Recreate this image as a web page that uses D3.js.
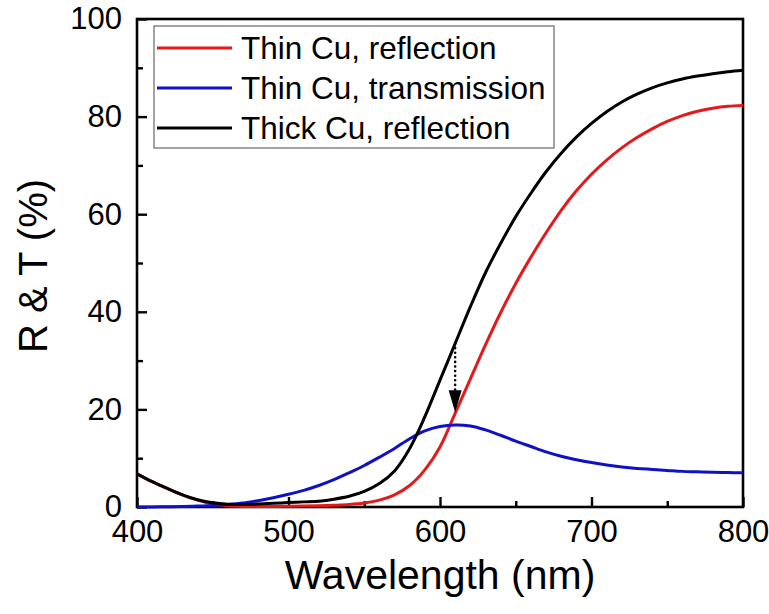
<!DOCTYPE html>
<html>
<head>
<meta charset="utf-8">
<script src="https://cdn.jsdelivr.net/npm/d3@7"></script>
<style>
  html, body { margin: 0; padding: 0; background: #fff; }
  svg { display: block; font-family: "Liberation Sans", Arial, sans-serif; }
</style>
</head>
<body>
<svg id="chart" width="769" height="614"></svg>
<script>
// Wavelength grid (nm)
const wavelength = [400,410,420,430,440,450,460,470,480,490,500,510,520,530,540,550,560,570,580,590,
                    600,610,620,630,640,650,660,670,680,690,700,710,720,730,740,750,760,770,780,790,800];

// Thin Cu film, reflection (%)
const thinReflection = [6.8,5.2,3.8,2.5,1.4,0.6,0.25,0.12,0.1,0.12,0.15,0.2,0.27,0.36,0.5,0.8,1.4,2.5,4.4,7.6,
                        12.3,19.2,26.2,33.2,39.8,45.8,51.2,56.2,60.8,64.8,68.2,71.1,73.6,75.7,77.5,79,80.2,81.1,81.7,82.1,82.3];

// Thin Cu film, transmission (%)
const thinTransmission = [0,0,0.05,0.1,0.2,0.3,0.5,0.8,1.3,1.9,2.6,3.4,4.4,5.6,7.0,8.5,10.2,12,14,15.6,
                          16.5,16.8,16.6,15.8,14.7,13.5,12.4,11.3,10.4,9.7,9.1,8.6,8.2,7.9,7.7,7.5,7.3,7.2,7.1,7.05,7.0];

// Thick Cu film, reflection (%)
const thickReflection = [6.8,5.2,3.8,2.5,1.5,0.85,0.55,0.5,0.6,0.75,0.9,1.05,1.2,1.6,2.2,3.2,4.8,7.4,12.0,18.5,
                         26,33.5,41,48,54,59.5,64.3,68.7,72.5,75.8,78.6,81,83,84.6,85.9,86.9,87.7,88.3,88.8,89.2,89.5];

const seriesNames = ["Thin Cu, reflection", "Thin Cu, transmission", "Thick Cu, reflection"];
const seriesColors = ["#e4191c", "#1010c4", "#000000"];

// Axis ticks
const xMajorTicks = [400, 500, 600, 700, 800];
const xMinorTicks = [450, 550, 650, 750];
const yMajorTicks = [0, 20, 40, 60, 80, 100];
const yMinorTicks = [10, 30, 50, 70, 90];

// Dotted arrow from the thick-film curve down to the thin-film curve
const arrowWavelength = 610;
const arrowFrom = 33.5;
const arrowTo = 19.4;

const svg = d3.select("#chart");
const plot = { left: 137, right: 743, top: 19, bottom: 507 };

const x = d3.scaleLinear().domain([400, 800]).range([plot.left, plot.right]);
const y = d3.scaleLinear().domain([0, 100]).range([plot.bottom, plot.top]);

const series = [thinReflection, thinTransmission, thickReflection].map((vals, i) => ({
  name: seriesNames[i],
  color: seriesColors[i],
  points: wavelength.map((w, j) => [w, vals[j]])
}));

// Frame
svg.append("rect")
  .attr("x", plot.left).attr("y", plot.top)
  .attr("width", plot.right - plot.left).attr("height", plot.bottom - plot.top)
  .attr("fill", "none").attr("stroke", "#000").attr("stroke-width", 2.6);

// Bottom axis: inward ticks
const xAxis = d3.axisBottom(x).tickValues(xMajorTicks).tickSizeInner(-10).tickSizeOuter(0).tickPadding(13);
const gx = svg.append("g").attr("transform", `translate(0,${plot.bottom})`).call(xAxis);
gx.select(".domain").remove();
gx.selectAll(".tick line").attr("stroke", "#000").attr("stroke-width", 2.4);
gx.selectAll(".tick text").attr("font-size", 31).attr("fill", "#000")
  .attr("font-family", "Liberation Sans, Arial, sans-serif");
const gxm = svg.append("g").attr("transform", `translate(0,${plot.bottom})`)
  .call(d3.axisBottom(x).tickValues(xMinorTicks).tickSizeInner(-6).tickSizeOuter(0).tickFormat(""));
gxm.select(".domain").remove();
gxm.selectAll(".tick line").attr("stroke", "#000").attr("stroke-width", 2.4);

// Left axis: inward ticks
const yAxis = d3.axisLeft(y).tickValues(yMajorTicks).tickSizeInner(-10).tickSizeOuter(0).tickPadding(15);
const gy = svg.append("g").attr("transform", `translate(${plot.left},0)`).call(yAxis);
gy.select(".domain").remove();
gy.selectAll(".tick line").attr("stroke", "#000").attr("stroke-width", 2.4);
gy.selectAll(".tick text").attr("font-size", 31).attr("fill", "#000")
  .attr("font-family", "Liberation Sans, Arial, sans-serif");
const gym = svg.append("g").attr("transform", `translate(${plot.left},0)`)
  .call(d3.axisLeft(y).tickValues(yMinorTicks).tickSizeInner(-6).tickSizeOuter(0).tickFormat(""));
gym.select(".domain").remove();
gym.selectAll(".tick line").attr("stroke", "#000").attr("stroke-width", 2.4);

// Axis titles
svg.append("text")
  .attr("x", (plot.left + plot.right) / 2).attr("y", 589)
  .attr("text-anchor", "middle").attr("font-size", 41).attr("fill", "#000")
  .text("Wavelength (nm)");
svg.append("text")
  .attr("transform", `translate(47,${(plot.top + plot.bottom) / 2 + 3}) rotate(-90)`)
  .attr("text-anchor", "middle").attr("font-size", 40).attr("fill", "#000")
  .text("R & T (%)");

// Curves
const line = d3.line().x(d => x(d[0])).y(d => y(d[1])).curve(d3.curveCatmullRom.alpha(0.5));
svg.append("g").selectAll("path")
  .data(series)
  .join("path")
  .attr("d", d => line(d.points))
  .attr("fill", "none")
  .attr("stroke", d => d.color)
  .attr("stroke-width", 3)
  .attr("stroke-linejoin", "round");

// Dotted arrow
const ax = x(arrowWavelength);
const headLen = 22, headHalf = 6.5;
svg.append("line")
  .attr("x1", ax).attr("x2", ax)
  .attr("y1", y(arrowFrom)).attr("y2", y(arrowTo) - headLen)
  .attr("stroke", "#000").attr("stroke-width", 2.6)
  .attr("stroke-linecap", "round").attr("stroke-dasharray", "0,4.6");
svg.append("path")
  .attr("d", `M${ax - headHalf},${y(arrowTo) - headLen} L${ax + headHalf},${y(arrowTo) - headLen} L${ax},${y(arrowTo)} Z`)
  .attr("fill", "#000");

// Legend
const legend = svg.append("g");
legend.append("rect")
  .attr("x", 154).attr("y", 26).attr("width", 400).attr("height", 122)
  .attr("fill", "#fff").attr("stroke", "#666").attr("stroke-width", 1.2);
series.forEach((s, i) => {
  const ly = 48 + i * 40;
  legend.append("line")
    .attr("x1", 157).attr("x2", 232).attr("y1", ly).attr("y2", ly)
    .attr("stroke", s.color).attr("stroke-width", 3);
  legend.append("text")
    .attr("x", 241).attr("y", ly + 11)
    .attr("font-size", 31.5).attr("fill", "#000")
    .text(s.name);
});
</script>
</body>
</html>
